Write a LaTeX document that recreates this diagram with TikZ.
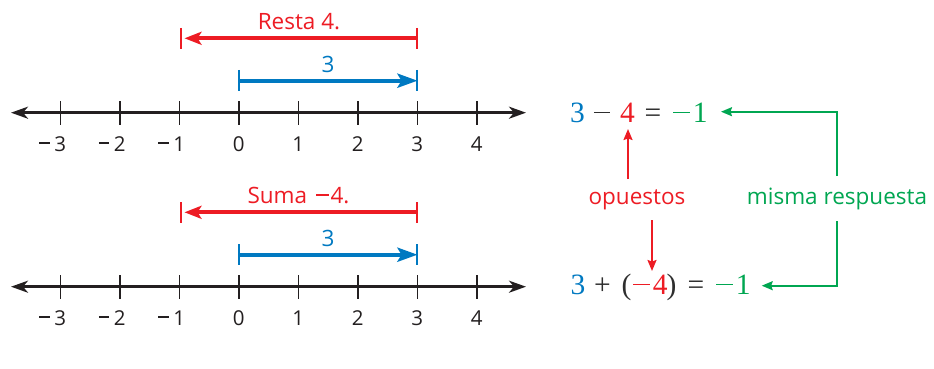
\documentclass[tikz,border=0pt]{standalone}
\usepackage{fontspec}
\setmainfont{Open Sans}
\newfontfamily\eqfont{Liberation Serif}
\usetikzlibrary{arrows.meta}
\definecolor{cred}{HTML}{ED1C24}
\definecolor{cblue}{HTML}{0079C1}
\definecolor{cgreen}{HTML}{00A651}
\definecolor{cblack}{HTML}{231F20}
\definecolor{cgray}{HTML}{2E2E2E}
\newcommand{\tmns}{\llap{\rule[6.8pt]{10.5pt}{1.8pt}\kern4.5pt}}
\newcommand{\lmns}{\rule[7.5pt]{13pt}{1.9pt}}
\newcommand{\emns}{\rule[8.6pt]{16.5pt}{1.6pt}}
\tikzset{
  numline/.style={draw=cblack, line width=2.7pt, {Stealth[length=17pt,width=12pt,inset=5pt]}-{Stealth[length=17pt,width=12pt,inset=5pt]}},
  tickmark/.style={draw=cblack, line width=1.4pt},
  ticklab/.style={font=\fontsize{20.5}{22}\selectfont, text=cblack, anchor=base, inner sep=0pt},
  redarrow/.style={draw=cred, line width=4pt, -{Stealth[length=17pt,width=13pt,inset=4pt]}},
  bluearrow/.style={draw=cblue, line width=4pt, -{Stealth[length=20pt,width=14pt,inset=4pt]}},
  redbar/.style={draw=cred, line width=2.4pt},
  bluebar/.style={draw=cblue, line width=2pt},
  lab/.style={font=\fontsize{22.5}{24}\selectfont, anchor=base, inner sep=0pt},
  eq/.style={font=\eqfont\fontsize{29.5}{30}\selectfont, anchor=base, inner sep=0pt},
  thinred/.style={draw=cred, line width=1.7pt, -{Stealth[length=11pt,width=9pt,inset=1.5pt]}},
  thingreen/.style={draw=cgreen, line width=1.8pt, -{Stealth[length=11pt,width=9pt,inset=1.5pt]}},
}
\begin{document}
\begin{tikzpicture}[x=1pt,y=-1pt]
\useasboundingbox (0,0) rectangle (934,369);
% two number lines
\foreach \off/\id in {0/a,174/b}{
  \begin{scope}[yshift=-\off pt]
    \coordinate (\id L) at (11,112.7);
    \coordinate (\id R) at (526,112.7);
    \draw[numline] (\id L) -- (\id R);
    \foreach \n in {-3,...,4}{
      \pgfmathsetmacro{\xx}{238.8+59.5*\n}
      \draw[tickmark] (\xx,101) -- (\xx,124.5);
    }
    \foreach \n/\t in {-3/{\tmns3},-2/{\tmns2},-1/{\tmns1},0/0,1/1,2/2,3/3,4/4}{
      \pgfmathsetmacro{\xx}{238.8+59.5*\n}
      \node[ticklab] (\id t\n) at (\xx,151) {\t};
    }
    % red bars and arrow
    \coordinate (\id rs) at (417,38.3);
    \coordinate (\id re) at (184.5,38.3);
    \draw[redbar] (180.7,28) -- (180.7,49);
    \draw[redbar] (417,28) -- (417,49);
    \draw[redarrow] (\id rs) -- (\id re);
    % blue bars and arrow
    \coordinate (\id bs) at (239,80.7);
    \coordinate (\id be) at (417.5,80.7);
    \draw[bluebar] (239,70) -- (239,91);
    \draw[bluebar] (417,70) -- (417,91);
    \draw[bluearrow] (\id bs) -- (\id be);
    \node[lab, text=cblue] (\id three) at (328,72.5) {3};
  \end{scope}
}
\node[lab, text=cred] (resta) at (299,29.5) {Resta 4.};
\node[lab, text=cred] (suma) at (298.5,203) {Suma\kern9pt\lmns\kern1.5pt 4.};
% equation 1
\node[eq, text=cblue]  (e1a) at (577.5,122) {3};
\node[eq, text=cgray]  (e1b) at (602,122) {\emns};
\node[eq, text=cred]   (e1c) at (627.5,122) {4};
\node[eq, text=cgray]  (e1d) at (653,122) {=};
\node[eq, text=cgreen] (e1e) at (690.5,122) {\emns\kern3pt 1};
% equation 2
\node[eq, text=cblue]  (e2a) at (578,294) {3};
\node[eq, text=cgray]  (e2b) at (602.5,294) {+};
\node[eq, text=cgray]  (e2c) at (626.5,294) {(};
\node[eq, text=cred]   (e2d) at (650.5,294) {\emns\kern3pt 4};
\node[eq, text=cgray]  (e2e) at (671.5,294) {)};
\node[eq, text=cgray]  (e2f) at (696,294) {=};
\node[eq, text=cgreen] (e2g) at (733.5,294) {\emns\kern3pt 1};
% labels
\node[lab, text=cred]   (opu) at (637,204) {opuestos};
\node[lab, text=cgreen] (mis) at (837,204) {misma respuesta};
% red arrows
\coordinate (u1) at (628,179);
\coordinate (u2) at (628,129);
\draw[thinred] (u1) -- (u2);
\coordinate (d1) at (652,220);
\coordinate (d2) at (652,271);
\draw[thinred] (d1) -- (d2);
% green connectors
\coordinate (g1) at (837.3,176);
\coordinate (g2) at (721,111.7);
\draw[thingreen] (g1) |- (g2);
\coordinate (g3) at (837.3,221);
\coordinate (g4) at (761.7,285.7);
\draw[thingreen] (g3) |- (g4);
\end{tikzpicture}
\end{document}
